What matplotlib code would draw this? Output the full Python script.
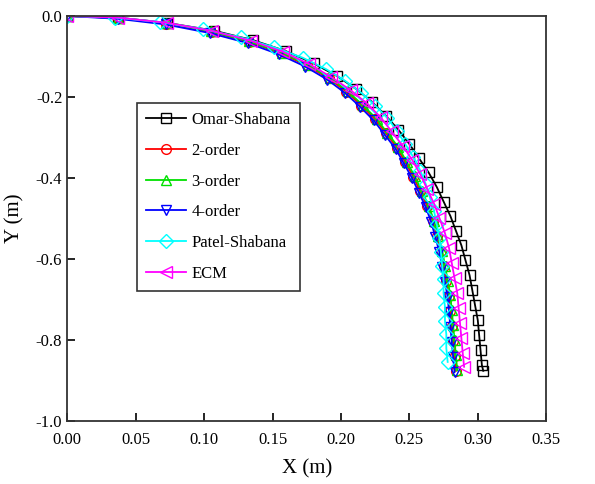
import numpy as np
import matplotlib.pyplot as plt

# data (X, Y in m)
omar_x = [0, 0.037, 0.073, 0.107, 0.136, 0.160, 0.180, 0.197, 0.211, 0.223, 0.233, 0.242, 0.250, 0.257,
          0.264, 0.270, 0.275, 0.280, 0.284, 0.288, 0.291, 0.294, 0.296, 0.298, 0.300, 0.301, 0.302, 0.303, 0.304]
omar_y = [0, -0.004, -0.017, -0.036, -0.060, -0.087, -0.117, -0.148, -0.180, -0.213, -0.247, -0.281, -0.316, -0.351,
          -0.386, -0.422, -0.458, -0.494, -0.530, -0.566, -0.603, -0.640, -0.677, -0.714, -0.751, -0.788, -0.825, -0.862, -0.876]

o2_x = [0, 0.037, 0.072, 0.105, 0.133, 0.156, 0.175, 0.191, 0.204, 0.215, 0.225, 0.233, 0.241, 0.247,
        0.253, 0.258, 0.263, 0.267, 0.270, 0.273, 0.275, 0.277, 0.279, 0.280, 0.281, 0.282, 0.283, 0.284]
o2_y = [0, -0.005, -0.019, -0.039, -0.064, -0.092, -0.122, -0.154, -0.187, -0.221, -0.255, -0.290, -0.325, -0.361,
        -0.397, -0.433, -0.469, -0.506, -0.543, -0.580, -0.617, -0.654, -0.691, -0.728, -0.765, -0.802, -0.839, -0.876]

o3_x = [0, 0.037, 0.072, 0.105, 0.133, 0.157, 0.176, 0.192, 0.205, 0.216, 0.226, 0.234, 0.242, 0.248,
        0.254, 0.259, 0.264, 0.268, 0.271, 0.274, 0.276, 0.278, 0.280, 0.281, 0.282, 0.283, 0.284, 0.285]
o3_y = [0, -0.005, -0.018, -0.038, -0.063, -0.091, -0.121, -0.153, -0.186, -0.220, -0.254, -0.289, -0.324, -0.360,
        -0.396, -0.432, -0.468, -0.505, -0.542, -0.579, -0.616, -0.653, -0.690, -0.727, -0.764, -0.801, -0.838, -0.875]

o4_x = [0, 0.037, 0.072, 0.104, 0.132, 0.155, 0.174, 0.190, 0.203, 0.214, 0.224, 0.232, 0.240, 0.246,
        0.252, 0.257, 0.262, 0.266, 0.269, 0.272, 0.274, 0.276, 0.278, 0.279, 0.280, 0.281, 0.282, 0.283]
o4_y = [0, -0.007, -0.021, -0.042, -0.067, -0.095, -0.125, -0.157, -0.190, -0.224, -0.258, -0.293, -0.328, -0.364,
        -0.400, -0.436, -0.472, -0.509, -0.546, -0.583, -0.620, -0.657, -0.694, -0.731, -0.768, -0.805, -0.842, -0.879]

patel_x = [0, 0.035, 0.068, 0.099, 0.127, 0.151, 0.172, 0.189, 0.203, 0.215, 0.225, 0.234, 0.241, 0.247, 0.253,
           0.258, 0.262, 0.265, 0.268, 0.270, 0.272, 0.273, 0.274, 0.275, 0.275, 0.276, 0.276, 0.277, 0.277, 0.278]
patel_y = [0, -0.004, -0.015, -0.032, -0.053, -0.077, -0.103, -0.131, -0.160, -0.190, -0.221, -0.252, -0.284, -0.316, -0.349,
           -0.382, -0.415, -0.448, -0.481, -0.514, -0.548, -0.582, -0.616, -0.650, -0.684, -0.718, -0.752, -0.786, -0.820, -0.854]

ecm_x = [0, 0.037, 0.073, 0.106, 0.134, 0.158, 0.177, 0.193, 0.207, 0.219, 0.229, 0.237, 0.245, 0.252,
         0.258, 0.263, 0.268, 0.272, 0.276, 0.279, 0.281, 0.283, 0.285, 0.286, 0.287, 0.288, 0.289, 0.290]
ecm_y = [0, -0.004, -0.017, -0.037, -0.061, -0.089, -0.119, -0.151, -0.183, -0.216, -0.250, -0.285, -0.320, -0.355,
         -0.391, -0.427, -0.463, -0.499, -0.536, -0.573, -0.610, -0.647, -0.684, -0.721, -0.758, -0.795, -0.832, -0.866]

x_ticks = [0.00, 0.05, 0.10, 0.15, 0.20, 0.25, 0.30, 0.35]
y_ticks = [-1.0, -0.8, -0.6, -0.4, -0.2, 0.0]

plt.rcParams['font.family'] = ['Liberation Serif', 'DejaVu Serif']

fig = plt.figure(figsize=(5.95, 4.84), dpi=100)
ax = fig.add_axes([0.113, 0.130, 0.805, 0.837])

ax.plot(omar_x, omar_y, color='black', marker='s', mfc='none', ms=7, lw=1.3, label='Omar-Shabana')
ax.plot(o2_x, o2_y, color='red', marker='o', mfc='none', ms=7, lw=1.3, label='2-order')
ax.plot(o3_x, o3_y, color='#00e000', marker='^', mfc='none', ms=7, lw=1.3, label='3-order')
ax.plot(o4_x, o4_y, color='blue', marker='v', mfc='none', ms=7, lw=1.3, label='4-order')
ax.plot(patel_x, patel_y, color='cyan', marker='D', mfc='none', ms=7, lw=1.3, label='Patel-Shabana')
ax.plot(ecm_x, ecm_y, color='magenta', marker='<', mfc='none', ms=9, lw=1.3, label='ECM')

ax.set_xlim(0, 0.35)
ax.set_ylim(-1.0, 0)
ax.set_xticks(x_ticks)
ax.set_xticklabels(['%.2f' % v for v in x_ticks])
ax.set_yticks(y_ticks)
ax.set_yticklabels(['%.1f' % v if v != 0 else '0.0' for v in y_ticks])
ax.tick_params(direction='in', length=6, width=1.2, labelsize=12)
ax.tick_params(axis='x', pad=8)
for s in ax.spines.values():
    s.set_linewidth(1.3)
    s.set_color('#333333')

ax.set_xlabel('X (m)', fontsize=15, labelpad=8)
ax.set_ylabel('Y (m)', fontsize=15, labelpad=8)

leg = ax.legend(loc='upper left', bbox_to_anchor=(0.146, 0.785), borderaxespad=0, fontsize=12,
                fancybox=False, edgecolor='#333333', framealpha=1, handlelength=2.4,
                labelspacing=0.88, handletextpad=0.3, borderpad=0.55)
leg.get_frame().set_linewidth(1.2)

fig.savefig('out.png', dpi=100)
